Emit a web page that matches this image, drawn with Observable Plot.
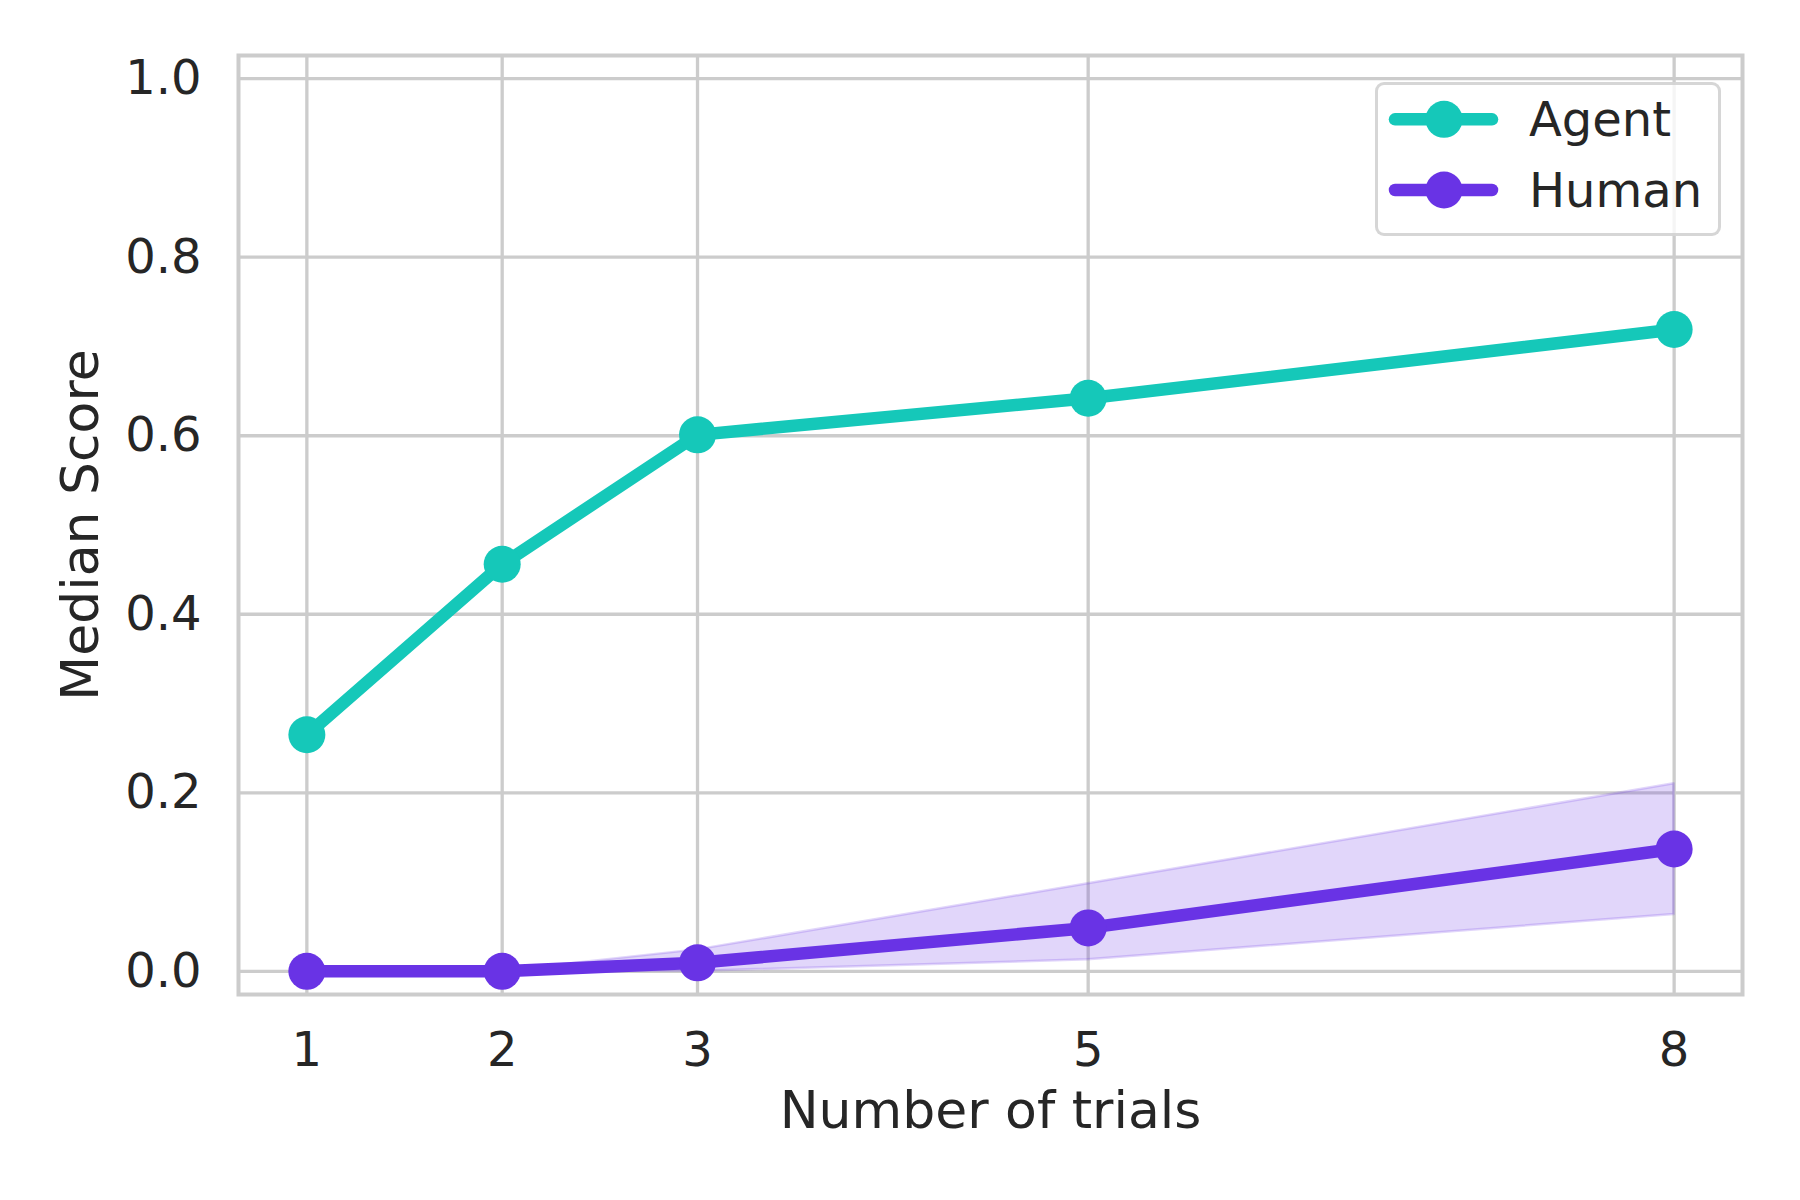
<!DOCTYPE html>
<html>
<head>
<meta charset="utf-8">
<script src="https://cdn.jsdelivr.net/npm/d3@7"></script>
<script src="https://cdn.jsdelivr.net/npm/@observablehq/plot@0.6"></script>
<style>
  html, body { margin: 0; padding: 0; background: white; }
  #wrap { position: relative; width: 1800px; height: 1200px; font-family: "DejaVu Sans", sans-serif; color: #262626; }
  #legend { position: absolute; left: 1375px; top: 82px; width: 346px; height: 154px; box-sizing: border-box;
            border: 3px solid rgba(204,204,204,0.8); border-radius: 9px; background: rgba(255,255,255,0.8); }
  #legend svg { position: absolute; left: 0; top: 0; overflow: visible; }
</style>
</head>
<body>
<div id="wrap"></div>
<script>
// ---- data ----
const trials = [1, 2, 3, 5, 8];
const agentScore = [0.265, 0.456, 0.601, 0.642, 0.719];
const humanScore = [0, 0, 0.0095, 0.0486, 0.137];
const humanLow = [0, 0, 0.0, 0.0128, 0.0636];
const humanHigh = [0, 0, 0.024, 0.098, 0.210];
const xTicks = [1, 2, 3, 5, 8];
const yTicks = [0.0, 0.2, 0.4, 0.6, 0.8, 1.0];
const seriesNames = ["Agent", "Human"];
const seriesColors = ["#15c8b9", "#6933e5"];

const agentData = trials.map((t, i) => ({trials: t, score: agentScore[i]}));
const humanData = trials.map((t, i) => ({trials: t, score: humanScore[i], lo: humanLow[i], hi: humanHigh[i]}));

const gridStyle = {stroke: "#cccccc", strokeOpacity: 1, strokeWidth: 3.3};

const chart = Plot.plot({
  width: 1800,
  height: 1200,
  marginLeft: 238,
  marginRight: 58,
  marginTop: 55,
  marginBottom: 206,
  style: {fontFamily: "DejaVu Sans", color: "#262626", background: "white", overflow: "visible"},
  x: {domain: [0.65, 8.35]},
  y: {domain: [-0.026, 1.026]},
  marks: [
    Plot.gridX({ticks: xTicks, ...gridStyle}),
    Plot.gridY({ticks: yTicks, ...gridStyle}),
    Plot.frame({stroke: "#cccccc", strokeWidth: 4}),
    Plot.axisX({ticks: xTicks, tickSize: 0, tickPadding: 37, fontSize: 48, fill: "#262626", label: null}),
    Plot.axisY({ticks: yTicks, tickSize: 0, tickPadding: 37, fontSize: 48, fill: "#262626", label: null, tickFormat: d3.format(".1f")}),
    Plot.text(["Number of trials"], {frameAnchor: "bottom", textAnchor: "middle", lineAnchor: "top", dy: 97, fontSize: 52, fill: "#262626"}),
    Plot.text(["Median Score"], {frameAnchor: "left", textAnchor: "middle", rotate: -90, lineAnchor: "middle", dx: -157, fontSize: 52, fill: "#262626"}),
    Plot.areaY(humanData, {x: "trials", y1: "lo", y2: "hi", fill: seriesColors[1], fillOpacity: 0.2, stroke: seriesColors[1], strokeOpacity: 0.2, strokeWidth: 2.5}),
    Plot.lineY(agentData, {x: "trials", y: "score", stroke: seriesColors[0], strokeWidth: 12.5, strokeLinejoin: "round"}),
    Plot.dot(agentData, {x: "trials", y: "score", fill: seriesColors[0], r: 18.5}),
    Plot.lineY(humanData, {x: "trials", y: "score", stroke: seriesColors[1], strokeWidth: 12.5, strokeLinejoin: "round"}),
    Plot.dot(humanData, {x: "trials", y: "score", fill: seriesColors[1], r: 18.5})
  ]
});

const wrap = document.getElementById("wrap");
wrap.appendChild(chart);

// ---- legend (overlay, top-right inside the frame) ----
const legend = document.createElement("div");
legend.id = "legend";
const ns = "http://www.w3.org/2000/svg";
const sw = document.createElementNS(ns, "svg");
sw.setAttribute("width", "346");
sw.setAttribute("height", "154");
const rowY = [34.3, 105];
seriesNames.forEach((name, i) => {
  const cy = rowY[i];
  const ln = document.createElementNS(ns, "line");
  ln.setAttribute("x1", 17); ln.setAttribute("x2", 114);
  ln.setAttribute("y1", cy); ln.setAttribute("y2", cy);
  ln.setAttribute("stroke", seriesColors[i]);
  ln.setAttribute("stroke-width", "12.5");
  ln.setAttribute("stroke-linecap", "round");
  sw.appendChild(ln);
  const c = document.createElementNS(ns, "circle");
  c.setAttribute("cx", 66); c.setAttribute("cy", cy); c.setAttribute("r", "18.5");
  c.setAttribute("fill", seriesColors[i]);
  sw.appendChild(c);
  const t = document.createElementNS(ns, "text");
  t.setAttribute("x", 151);
  t.setAttribute("y", cy + 16.5);
  t.setAttribute("font-size", "48");
  t.setAttribute("font-family", "DejaVu Sans");
  t.setAttribute("fill", "#262626");
  t.textContent = name;
  sw.appendChild(t);
});
legend.appendChild(sw);
wrap.appendChild(legend);
</script>
</body>
</html>
